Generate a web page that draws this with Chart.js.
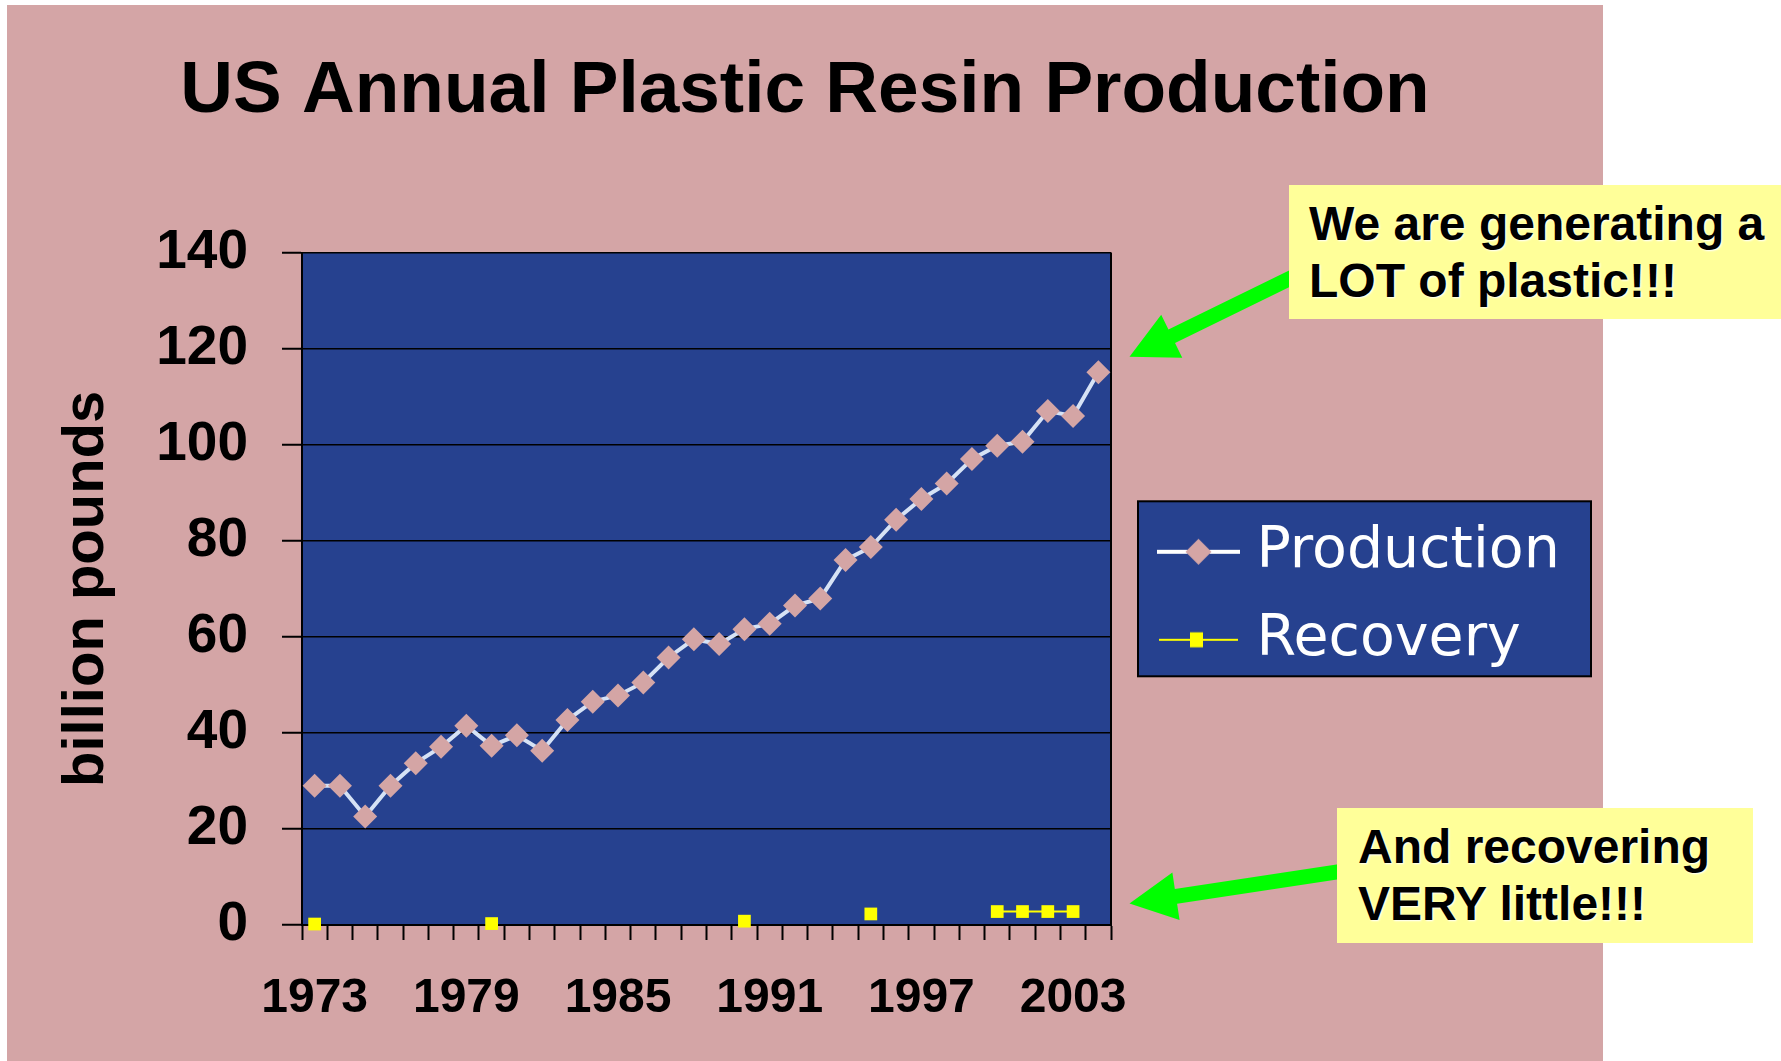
<!DOCTYPE html>
<html>
<head>
<meta charset="utf-8">
<title>US Annual Plastic Resin Production</title>
<script src="https://cdn.jsdelivr.net/npm/chart.js@4.4.0/dist/chart.umd.min.js"></script>
<style>
  html, body { margin: 0; padding: 0; background: #fff; overflow: hidden; }
  #slide { position: absolute; left: 7px; top: 5px; width: 1596px; height: 1056px; background: #d4a5a6; }
  #myChart { position: absolute; left: 0; top: 0; }
  .note {
    position: absolute; box-sizing: border-box; background: #ffff99; color: #000;
    font: bold 48px "Liberation Sans", Arial, sans-serif; line-height: 57px;
    text-shadow: 1px 1px 2px #fff;
  }
</style>
</head>
<body>
<div id="slide"></div>
<canvas id="myChart" width="1781" height="1061"></canvas>
<div class="note" style="left:1289px;top:185px;width:492px;height:134px;padding:10px 0 0 20px;">We are generating a<br>LOT of plastic!!!</div>
<div class="note" style="left:1337px;top:808px;width:416px;height:135px;padding:10px 0 0 21px;">And recovering<br>VERY little!!!</div>
<script>
// data (billion pounds)
const years = ["1973", "1974", "1975", "1976", "1977", "1978", "1979", "1980",
  "1981", "1982", "1983", "1984", "1985", "1986", "1987", "1988", "1989", "1990",
  "1991", "1992", "1993", "1994", "1995", "1996", "1997", "1998", "1999", "2000",
  "2001", "2002", "2003", "2004"];
const production = [29.0, 29.0, 22.6, 29.0, 33.7, 37.1, 41.5, 37.3, 39.5, 36.3,
  42.7, 46.5, 47.8, 50.5, 55.7, 59.5, 58.5, 61.6, 62.7, 66.5, 68.0, 76.0, 78.7,
  84.4, 88.7, 91.9, 97.0, 99.8, 100.6, 107.0, 106.0, 115.1];
const recovery = [0.2, null, null, null, null, null, null, 0.3, null, null, null,
  null, null, null, null, null, null, 0.8, null, null, null, null, 2.3, null, null,
  null, null, 2.8, 2.8, 2.8, 2.8, null];
const xTickYears = ["1973", "1979", "1985", "1991", "1997", "2003"];
const seriesNames = ["Production", "Recovery"];

const plotBlue = "#26418f";
const pink = "#d4a5a5";

// callout arrows: value they point at, and where the tail sits
const arrows = [
  { value: 118.3, dx: 170, dy: -83 },
  { value: 4.5, dx: 218, dy: -33 },
];

Chart.defaults.font.family = "'Liberation Sans', Arial, sans-serif";

// legend sizing, so the title centres over the slide and the legend text is not cut
const legendFont = { family: "'DejaVu Sans'", size: 57 };
const measure = document.createElement("canvas").getContext("2d");
measure.font = legendFont.size + "px " + legendFont.family;
const legendTextW = Math.max(...seriesNames.map((t) => measure.measureText(t).width));
const legendPad = 31, legendBox = 86;
const legendW = Math.ceil(legendPad + legendBox + legendFont.size / 2 + legendTextW + 3);
const plotRight = 1111, plotLeft = 302, titleCenter = 805;
const padR = 1781 - plotRight - legendW;
const padL = 2 * titleCenter - plotRight - legendW;

function legendSymbol(kind) {
  const c = document.createElement("canvas");
  c.width = 110;
  c.height = 32;
  const g = c.getContext("2d");
  const y = 16;
  if (kind === "production") {
    g.strokeStyle = "#ffffff";
    g.lineWidth = 4;
    g.beginPath();
    g.moveTo(27, y);
    g.lineTo(110, y);
    g.stroke();
    g.fillStyle = pink;
    const cx = 68.5, r = 13;
    g.beginPath();
    g.moveTo(cx, y - r);
    g.lineTo(cx + r, y);
    g.lineTo(cx, y + r);
    g.lineTo(cx - r, y);
    g.closePath();
    g.fill();
  } else {
    g.strokeStyle = "#ffff00";
    g.lineWidth = 2;
    g.beginPath();
    g.moveTo(29, y);
    g.lineTo(108, y);
    g.stroke();
    g.fillStyle = "#ffff00";
    g.fillRect(60, y - 7.5, 13, 15);
  }
  return c;
}
const symbols = [legendSymbol("production"), legendSymbol("recovery")];

function drawArrow(ctx, tx, ty, sx, sy) {
  const len = Math.hypot(sx - tx, sy - ty);
  const ux = (sx - tx) / len, uy = (sy - ty) / len;
  const nx = -uy, ny = ux;
  const hl = 47, hw = 24, sw = 7.5;
  const bx = tx + ux * hl, by = ty + uy * hl;
  ctx.beginPath();
  ctx.moveTo(tx, ty);
  ctx.lineTo(bx + nx * hw, by + ny * hw);
  ctx.lineTo(bx + nx * sw, by + ny * sw);
  ctx.lineTo(sx + nx * sw, sy + ny * sw);
  ctx.lineTo(sx - nx * sw, sy - ny * sw);
  ctx.lineTo(bx - nx * sw, by - ny * sw);
  ctx.lineTo(bx - nx * hw, by - ny * hw);
  ctx.closePath();
  ctx.fill();
}

const slidePlugin = {
  id: "slide",
  beforeDraw(chart) {
    const { ctx, chartArea: a, legend } = chart;
    ctx.save();
    ctx.fillStyle = plotBlue;
    ctx.fillRect(a.left, a.top, a.right - a.left, a.bottom - a.top);
    // legend frame
    const mid = (legend.top + legend.bottom) / 2;
    const lx = legend.left + 27, lw = 453, lh = 175;
    ctx.fillRect(lx, mid - lh / 2, lw, lh);
    ctx.lineWidth = 2;
    ctx.strokeStyle = "#000";
    ctx.strokeRect(lx, mid - lh / 2, lw, lh);
    ctx.restore();
  },
  beforeDatasetsDraw(chart) {
    const { ctx, chartArea: a } = chart;
    ctx.save();
    ctx.strokeStyle = "#000";
    ctx.lineWidth = 2;
    ctx.beginPath();
    ctx.moveTo(a.right, a.top);
    ctx.lineTo(a.right, a.bottom);
    ctx.stroke();
    ctx.restore();
  },
  afterDraw(chart) {
    const { ctx, chartArea: a } = chart;
    const y = chart.scales.y;
    ctx.save();
    ctx.fillStyle = "#00ff00";
    arrows.forEach((ar) => {
      const tx = a.right + 18.5;
      const ty = y.getPixelForValue(ar.value);
      drawArrow(ctx, tx, ty, tx + ar.dx, ty + ar.dy);
    });
    ctx.restore();
  },
};

const ctx = document.getElementById("myChart").getContext("2d");
new Chart(ctx, {
  type: "line",
  data: {
    labels: years,
    datasets: [
      {
        label: seriesNames[0],
        data: production,
        borderColor: "#d6e2f5",
        borderWidth: 4,
        pointStyle: "rectRot",
        pointRadius: 12,
        pointBackgroundColor: pink,
        pointBorderWidth: 0,
        tension: 0,
        clip: false,
      },
      {
        label: seriesNames[1],
        data: recovery,
        borderColor: "#ffff00",
        borderWidth: 2,
        pointStyle: "rect",
        pointRadius: 9,
        pointBackgroundColor: "#ffff00",
        pointBorderWidth: 0,
        spanGaps: false,
        clip: false,
      },
    ],
  },
  options: {
    responsive: false,
    animation: false,
    devicePixelRatio: 1,
    layout: { padding: { left: padL, right: padR, top: 0, bottom: 0 } },
    plugins: {
      title: {
        display: true,
        text: "US Annual Plastic Resin Production",
        color: "#000",
        font: { size: 73, weight: "bold" },
        padding: { top: 48, bottom: 117 },
      },
      legend: {
        position: "right",
        fullSize: false,
        maxWidth: legendW,
        // empty title only nudges the two entries down a little
        title: { display: true, text: "", padding: 0, font: { size: 14, lineHeight: 1 } },
        labels: {
          usePointStyle: true,
          pointStyleWidth: legendBox,
          padding: legendPad,
          color: "#fff",
          font: legendFont,
          generateLabels: (chart) =>
            chart.data.datasets.map((ds, i) => ({
              text: ds.label,
              fillStyle: ds.pointBackgroundColor,
              strokeStyle: ds.borderColor,
              lineWidth: 0,
              pointStyle: symbols[i],
              fontColor: "#fff",
              hidden: false,
              datasetIndex: i,
            })),
        },
      },
      tooltip: { enabled: false },
    },
    scales: {
      x: {
        offset: true,
        grid: {
          offset: true,
          drawOnChartArea: false,
          drawTicks: true,
          tickLength: 15,
          tickColor: "#000",
          tickWidth: 2,
        },
        border: { color: "#000", width: 2 },
        ticks: {
          autoSkip: false,
          maxRotation: 0,
          color: "#000",
          padding: 30,
          font: { size: 48, weight: "bold" },
          callback: (v, i) => (xTickYears.includes(years[i]) ? years[i] : ""),
        },
        afterFit: (scale) => {
          scale.height = 136;
        },
      },
      y: {
        min: 0,
        max: 140,
        grid: {
          color: "#000",
          lineWidth: 1.5,
          drawTicks: true,
          tickLength: 20,
          tickColor: "#000",
          tickWidth: 2,
        },
        border: { color: "#000", width: 2 },
        ticks: {
          stepSize: 20,
          color: "#000",
          padding: 34,
          font: { size: 55, weight: "bold" },
        },
        title: {
          display: true,
          text: "billion pounds",
          color: "#000",
          font: { size: 58, weight: "bold" },
          padding: { top: Math.max(0, 52 - padL), bottom: 0 },
        },
        afterFit: (scale) => {
          scale.width = plotLeft - padL;
        },
      },
    },
  },
  plugins: [slidePlugin],
});
</script>
</body>
</html>
